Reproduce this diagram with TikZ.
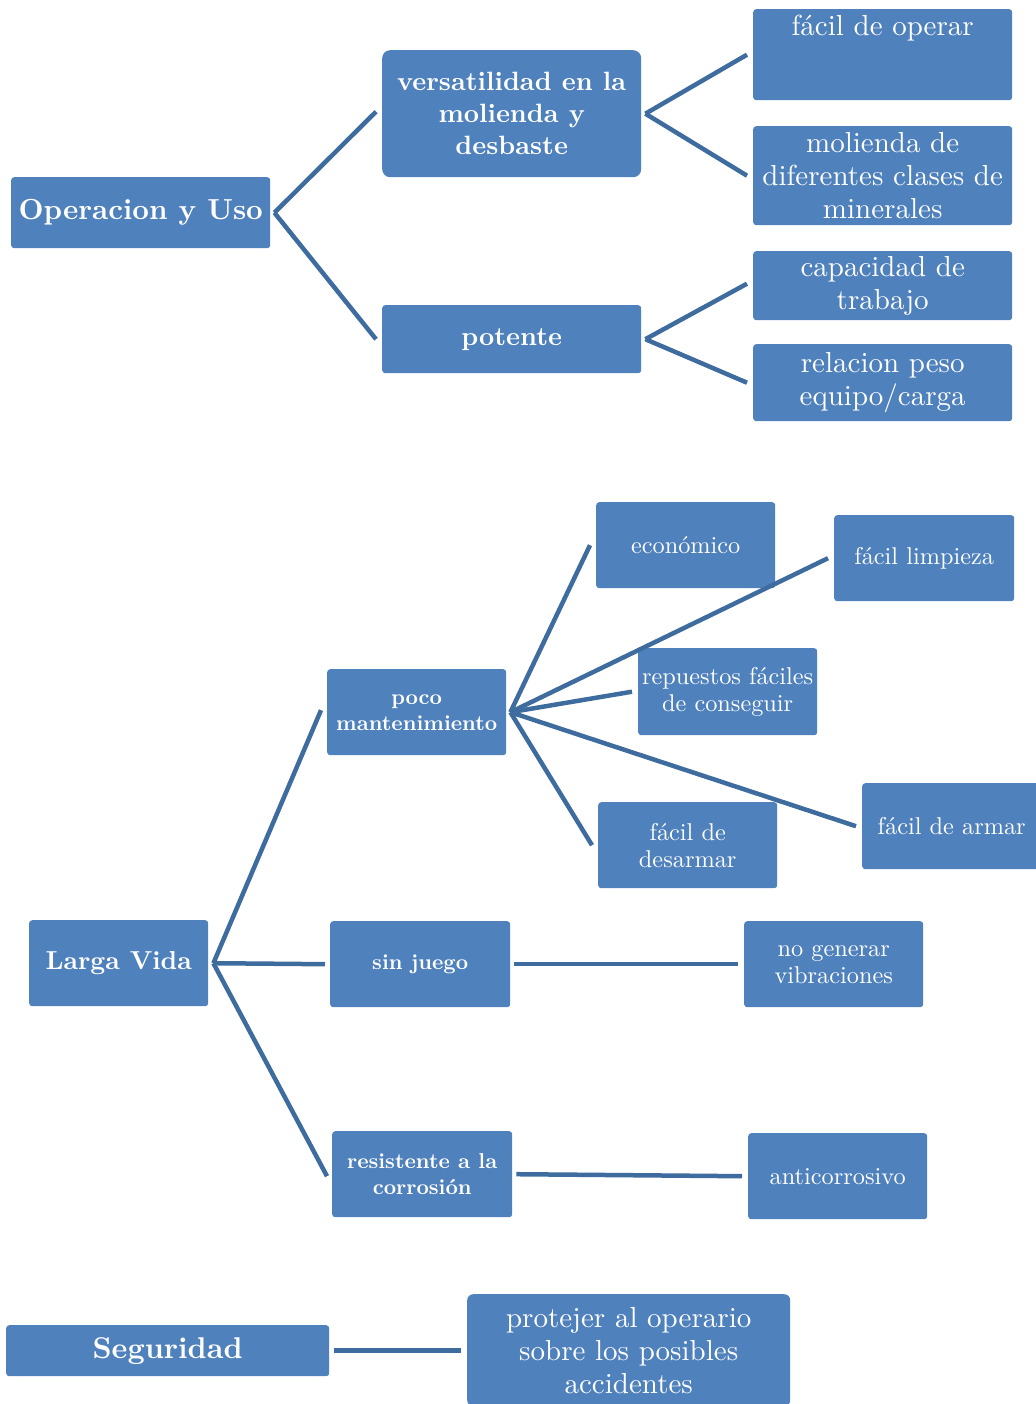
\documentclass[tikz,border=0pt]{standalone}
\usepackage{fontspec}
\setmainfont{lmroman10-regular.otf}[BoldFont=lmroman10-bold.otf]
\definecolor{boxblue}{HTML}{4F81BD}
\definecolor{linkblue}{HTML}{3F6C9F}
\tikzset{
  box/.style={fill=boxblue, rounded corners=3pt, inner sep=0pt, text=white, align=center, anchor=north west},
  bigbold/.style={font=\fontsize{29}{34}\selectfont\bfseries},
  lvbold/.style={font=\fontsize{26}{32}\selectfont\bfseries},
  midbold/.style={font=\fontsize{26.5}{32}\selectfont\bfseries},
  bigreg/.style={font=\fontsize{29}{33}\selectfont},
  smallbold/.style={font=\fontsize{21.5}{26}\selectfont\bfseries},
  smallreg/.style={font=\fontsize{24.3}{27}\selectfont},
  link/.style={draw=linkblue, line width=4.5pt}
}
\begin{document}
\begin{tikzpicture}[x=1pt,y=-1pt]
\useasboundingbox (0,0) rectangle (1035,1404);
% ---- top section
\node[box, bigbold, minimum width=259pt, minimum height=71pt] (OU) at (11,177) {Operacion y Uso};
\node[box, midbold, rounded corners=8pt, minimum width=259pt, minimum height=127pt] (V) at (382,50) {versatilidad en la\\molienda y\\desbaste};
\node[box, midbold, minimum width=259pt, minimum height=68pt] (P) at (382,305) {potente};
\node[box, bigreg, minimum width=259pt, minimum height=91pt, text height=26pt, text depth=65pt] (F1) at (753,9) {fácil de operar};
\node[box, bigreg, minimum width=259pt, minimum height=99pt] (F2) at (753,126) {molienda de\\diferentes clases de\\minerales};
\node[box, bigreg, minimum width=259pt, minimum height=69pt] (F3) at (753,251) {capacidad de\\trabajo};
\node[box, bigreg, minimum width=259pt, minimum height=77pt] (F4) at (753,344) {relacion peso\\equipo/carga};
% ---- middle section
\node[box, lvbold, minimum width=179pt, minimum height=86pt] (LV) at (29,920) {Larga Vida};
\node[box, smallbold, minimum width=179pt, minimum height=86pt] (PM) at (327,669) {poco\\mantenimiento};
\node[box, smallbold, minimum width=180pt, minimum height=86pt] (SJ) at (330,921) {sin juego};
\node[box, smallbold, minimum width=180pt, minimum height=86pt] (RC) at (332,1131) {resistente a la\\corrosión};
\node[box, smallreg, minimum width=179pt, minimum height=86pt] (EC) at (596,502) {económico};
\node[box, smallreg, minimum width=180pt, minimum height=86pt] (FL) at (834,515) {fácil limpieza};
\node[box, smallreg, minimum width=179pt, minimum height=87pt] (RF) at (638,648) {repuestos fáciles\\de conseguir};
\node[box, smallreg, minimum width=179pt, minimum height=86pt] (FA) at (862,783) {fácil de armar};
\node[box, smallreg, minimum width=179pt, minimum height=86pt] (FD) at (598,802) {fácil de\\desarmar};
\node[box, smallreg, minimum width=179pt, minimum height=86pt] (NG) at (744,921) {no generar\\vibraciones};
\node[box, smallreg, minimum width=179pt, minimum height=86pt] (AC) at (748,1133) {anticorrosivo};
% ---- bottom section
\node[box, bigbold, font=\fontsize{30}{34}\selectfont\bfseries, minimum width=323pt, minimum height=51pt] (SEG) at (6,1325) {Seguridad};
\node[box, bigreg, rounded corners=6pt, minimum width=323pt, minimum height=112pt] (PO) at (467,1294) {protejer al operario\\sobre los posibles\\accidentes};
% ---- connectors
\draw[link] ([xshift=4pt]OU.east) -- ([xshift=-6pt,yshift=2pt]V.west);
\draw[link] ([xshift=4pt]OU.east) -- ([xshift=-6pt]P.west);
\draw[link] ([xshift=4pt]V.east) -- ([xshift=-6pt]F1.west);
\draw[link] ([xshift=4pt]V.east) -- ([xshift=-6pt]F2.west);
\draw[link] ([xshift=4pt]P.east) -- ([xshift=-6pt,yshift=2pt]F3.west);
\draw[link] ([xshift=4pt]P.east) -- ([xshift=-6pt]F4.west);
\draw[link] ([xshift=5pt]LV.east) -- ([xshift=-6pt,yshift=2pt]PM.west);
\draw[link] ([xshift=5pt]LV.east) -- ([xshift=-5pt]SJ.west);
\draw[link] ([xshift=5pt]LV.east) -- ([xshift=-5pt,yshift=-2pt]RC.west);
\draw[link] ([xshift=4pt]PM.east) -- ([xshift=-6pt]EC.west);
\draw[link] ([xshift=4pt]PM.east) -- ([xshift=-6pt]FL.west);
\draw[link] ([xshift=4pt]PM.east) -- ([xshift=-6pt]RF.west);
\draw[link] ([xshift=4pt]PM.east) -- ([xshift=-6pt]FA.west);
\draw[link] ([xshift=4pt]PM.east) -- ([xshift=-6pt]FD.west);
\draw[link] ([xshift=4pt]SJ.east) -- ([xshift=-6pt]NG.west);
\draw[link] ([xshift=4pt]RC.east) -- ([xshift=-6pt]AC.west);
\draw[link] ([xshift=5pt]SEG.east) -- ([xshift=-6pt]PO.west |- SEG.east);
\end{tikzpicture}
\end{document}
